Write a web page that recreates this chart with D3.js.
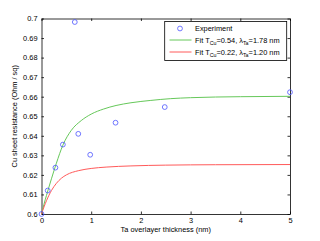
<!DOCTYPE html>
<html><head><meta charset="utf-8">
<script src="https://cdn.jsdelivr.net/npm/d3@7"></script>
<style>
body{margin:0;background:#fff;}
svg{display:block;font-family:"Liberation Sans",Arial,sans-serif;}
</style></head>
<body><svg id="c" width="320" height="241"></svg>
<script>
// Experimental data
const expX = [0, 0.125, 0.28, 0.43, 0.67, 0.74, 0.98, 1.49, 2.48, 5];
const expY = [0.600, 0.612, 0.6237, 0.6355, 0.6982, 0.641, 0.6303, 0.6467, 0.6547, 0.6623];
// Fit curves
const fit1X = [0, 0.05, 0.1, 0.2, 0.3, 0.43, 0.6, 0.8, 1.0, 1.25, 1.5, 1.8, 2.2, 2.6, 3.0, 4.0, 5.0];
const fit1Y = [0.600, 0.6050, 0.6095, 0.6180, 0.6260, 0.6352, 0.6428, 0.6478, 0.6511, 0.6537, 0.6555, 0.6569, 0.6581, 0.6590, 0.6595, 0.6600, 0.6602];
const fit2X = [0, 0.05, 0.1, 0.2, 0.3, 0.4, 0.5, 0.75, 1.0, 1.3, 1.8, 2.5, 3.5, 5.0];
const fit2Y = [0.600, 0.6036, 0.6068, 0.6120, 0.6157, 0.6183, 0.6200, 0.6222, 0.6233, 0.6240, 0.6246, 0.6250, 0.6252, 0.6253];
const xTicks = [0, 1, 2, 3, 4, 5];
const yTicks = [0.6, 0.61, 0.62, 0.63, 0.64, 0.65, 0.66, 0.67, 0.68, 0.69, 0.7];
const legendLabels = ["Experiment", "Fit T|Cu|=0.54, λ|Ta|=1.78 nm", "Fit T|Cu|=0.22, λ|Ta|=1.20 nm"];

const L = 41.5, R = 290, T = 18.5, B = 214;
const svg = d3.select("#c");
const x = d3.scaleLinear().domain([0, 5]).range([L, R]);
const y = d3.scaleLinear().domain([0.6, 0.7]).range([B, T]);

const fmtY = d => d3.format(".2f")(d).replace(/0$/, "").replace(/\.$/, "");
const tl = 2.5;
const axB = d3.axisBottom(x).tickValues(xTicks).tickSizeInner(-tl).tickSizeOuter(0).tickPadding(4).tickFormat(d3.format("d"));
const axT = d3.axisTop(x).tickValues(xTicks).tickSizeInner(-tl).tickSizeOuter(0).tickFormat("");
const axL = d3.axisLeft(y).tickValues(yTicks).tickSizeInner(-tl).tickSizeOuter(0).tickPadding(4).tickFormat(fmtY);
const axR = d3.axisRight(y).tickValues(yTicks).tickSizeInner(-tl).tickSizeOuter(0).tickFormat("");

function styleAx(g){
  g.selectAll("path").attr("stroke","#000").attr("stroke-width",0.8);
  g.selectAll("line").attr("stroke","#000").attr("stroke-width",0.8);
  g.selectAll("text").attr("font-size","7.4px").attr("fill","#000").attr("font-family","Liberation Sans, Arial, sans-serif");
}
svg.append("g").attr("transform",`translate(0,${B})`).call(axB).call(styleAx);
svg.append("g").attr("transform",`translate(0,${T})`).call(axT).call(styleAx);
svg.append("g").attr("transform",`translate(${L},0)`).call(axL).call(styleAx);
svg.append("g").attr("transform",`translate(${R},0)`).call(axR).call(styleAx);

// curves
const line = d3.line().x(d=>x(d[0])).y(d=>y(d[1])).curve(d3.curveMonotoneX);
svg.append("path").datum(fit1X.map((v,i)=>[v,fit1Y[i]])).attr("d",line)
  .attr("fill","none").attr("stroke","#66c85a").attr("stroke-width",1);
svg.append("path").datum(fit2X.map((v,i)=>[v,fit2Y[i]])).attr("d",line)
  .attr("fill","none").attr("stroke","#ff5a5a").attr("stroke-width",1);

// points
svg.append("g").selectAll("circle").data(expX.map((v,i)=>[v,expY[i]])).join("circle")
  .attr("cx",d=>x(d[0])).attr("cy",d=>y(d[1])).attr("r",2.4)
  .attr("fill","none").attr("stroke","#4d55ff").attr("stroke-width",0.8);

// axis labels
svg.append("text").attr("x",(L+R)/2).attr("y",232).attr("text-anchor","middle")
  .attr("font-size","7.4px").text("Ta overlayer thickness (nm)");
svg.append("text").attr("transform",`translate(17,${(T+B)/2}) rotate(-90)`).attr("text-anchor","middle")
  .attr("font-size","7.4px").text("Cu sheet resistance (Ohm / sq)");

// legend
const lg = svg.append("g");
lg.append("rect").attr("x",164.7).attr("y",21.5).attr("width",122).attr("height",39)
  .attr("fill","#fff").attr("stroke","#000").attr("stroke-width",0.8);
const rowsY = [28.5, 40, 52];
lg.append("circle").attr("cx",180).attr("cy",rowsY[0]).attr("r",2.4)
  .attr("fill","none").attr("stroke","#4d55ff").attr("stroke-width",0.8);
lg.append("line").attr("x1",169.5).attr("x2",191.5).attr("y1",rowsY[1]).attr("y2",rowsY[1]).attr("stroke","#66c85a").attr("stroke-width",1);
lg.append("line").attr("x1",169.5).attr("x2",191.5).attr("y1",rowsY[2]).attr("y2",rowsY[2]).attr("stroke","#ff5a5a").attr("stroke-width",1);
legendLabels.forEach((lab,i)=>{
  const t = lg.append("text").attr("x",195).attr("y",rowsY[i]+2.5).attr("font-size","7.4px");
  const parts = lab.split("|");
  parts.forEach((p,j)=>{
    if (j%2===1) t.append("tspan").attr("dy",2).attr("font-size","5.3px").text(p);
    else if (j>0) t.append("tspan").attr("dy",-2).text(p);
    else t.append("tspan").text(p);
  });
});
</script></body></html>
